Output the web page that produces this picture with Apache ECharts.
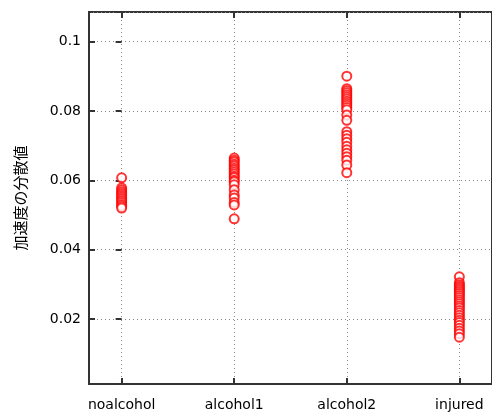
<!DOCTYPE html>
<html>
<head>
<meta charset="utf-8">
<script src="https://cdn.jsdelivr.net/npm/echarts@6/dist/echarts.min.js"></script>
<style>html,body{margin:0;padding:0;background:#fff;}#c{width:492px;height:412px;}</style>
</head>
<body>
<div id="c"></div>
<script>
const categories = ['noalcohol', 'alcohol1', 'alcohol2', 'injured'];
const noalcohol = [0.0607, 0.0578, 0.0572, 0.0566, 0.0561, 0.0556, 0.0551, 0.0546, 0.0541, 0.0536, 0.0530, 0.0525, 0.0520];
const alcohol1 = [0.0664, 0.0658, 0.0653, 0.0646, 0.0641, 0.0635, 0.0630, 0.0624, 0.0618, 0.0612, 0.0607, 0.0600, 0.0596, 0.0587, 0.0573, 0.0558, 0.0549, 0.0536, 0.0529, 0.0489];
const alcohol2 = [0.0900, 0.0864, 0.0858, 0.0852, 0.0846, 0.0840, 0.0834, 0.0828, 0.0822, 0.0816, 0.0810, 0.0803, 0.0788, 0.0773, 0.0740, 0.0730, 0.0720, 0.0710, 0.0698, 0.0688, 0.0678, 0.0668, 0.0658, 0.0644, 0.0622];
const injured = [0.0322, 0.0305, 0.0299, 0.0294, 0.0289, 0.0284, 0.0279, 0.0274, 0.0268, 0.0262, 0.0256, 0.0250, 0.0244, 0.0238, 0.0232, 0.0225, 0.0218, 0.0211, 0.0204, 0.0197, 0.0190, 0.0182, 0.0174, 0.0166, 0.0158, 0.0148];
const yTitle = '加速度の分散値';

const groups = [noalcohol, alcohol1, alcohol2, injured];
const data = [];
groups.forEach((g, i) => g.forEach(v => data.push([i, v])));

const font = 'DejaVu Sans';
const gridLine = { show: true, lineStyle: { color: '#888', type: [1, 3], width: 1 } };
const chart = echarts.init(document.getElementById('c'));
chart.setOption({
  animation: false,
  backgroundColor: '#fff',
  grid: { left: 89, top: 12, width: 406, height: 372, show: true, borderColor: '#333', borderWidth: 2, backgroundColor: 'transparent' },
  xAxis: [{
    type: 'value', min: -0.29, max: 3.29, splitNumber: 4,
    axisLine: { show: true, onZero: false, lineStyle: { color: '#333', width: 2 } },
    axisTick: { show: true, inside: true, length: 6, lineStyle: { color: '#333', width: 2 } },
    axisLabel: { showMinLabel: false, showMaxLabel: false, margin: 14, color: '#000', fontFamily: font, fontSize: 14,
      formatter: v => (Number.isInteger(v) && categories[v]) ? categories[v] : '' },
    splitLine: gridLine
  }, {
    type: 'value', position: 'top', min: -0.29, max: 3.29, splitNumber: 4,
    axisLine: { show: false },
    axisTick: { show: true, inside: true, length: 6, lineStyle: { color: '#333', width: 2 } },
    axisLabel: { show: false }, splitLine: { show: false }
  }],
  yAxis: [{
    type: 'value', min: 0.0013, max: 0.1085, splitNumber: 5,
    name: yTitle, nameLocation: 'middle', nameGap: 61, nameMoveOverlap: false,
    nameTextStyle: { fontFamily: 'Noto Sans CJK JP', fontSize: 15, color: '#000' },
    axisLine: { show: true, onZero: false, lineStyle: { color: '#333', width: 2 } },
    axisTick: { show: true, inside: true, length: 6, lineStyle: { color: '#333', width: 2 } },
    axisLabel: { showMinLabel: false, showMaxLabel: false, margin: 8, color: '#000', fontFamily: font, fontSize: 14,
      formatter: v => String(parseFloat(v.toFixed(4))) },
    splitLine: gridLine
  }, {
    type: 'value', position: 'right', min: 0.0013, max: 0.1085, splitNumber: 5,
    axisLine: { show: false },
    axisTick: { show: true, inside: true, length: 6, lineStyle: { color: '#333', width: 2 } },
    axisLabel: { show: false }, splitLine: { show: false }
  }],
  series: [{
    type: 'scatter', xAxisIndex: 0, yAxisIndex: 0,
    data: data,
    symbol: 'emptyCircle', symbolSize: 9,
    itemStyle: { color: '#ff0000', borderColor: '#ff0000', borderWidth: 1.2 }
  }]
});
</script>
</body>
</html>
